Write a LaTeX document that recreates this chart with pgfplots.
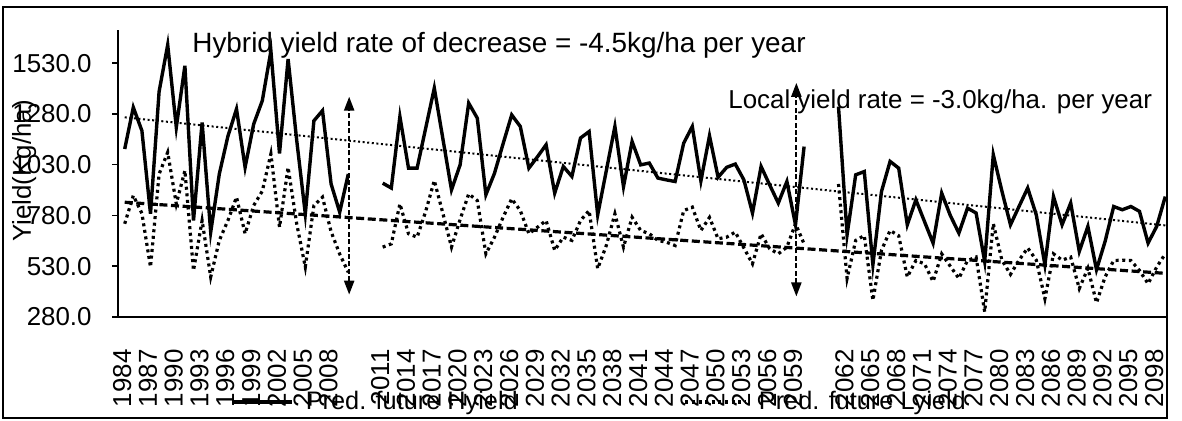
\documentclass[border=0pt]{standalone}
\usepackage{fontspec}
\setmainfont{Liberation Sans}
\usepackage{pgfplots}
\pgfplotsset{compat=1.18}
\usetikzlibrary{arrows.meta}

\begin{document}
\begin{tikzpicture}
\useasboundingbox (-59bp,-52bp) rectangle (532bp,158.5bp);
\begin{axis}[
  scale only axis, width=524.5bp, height=143.5bp,
  xmin=-0.78, xmax=121.2, ymin=280, ymax=1693,
  axis x line*=bottom, axis y line*=left,
  axis line style={line width=1bp},
  unbounded coords=jump,
  ytick={280,530,780,1030,1280,1530},
  tick align=outside, major tick length=3bp,
  tick style={line width=0.8bp, black},
  xtick style={draw=none},
  xtick={-0.3,2.7,5.7,8.7,11.7,14.7,17.7,20.7,23.7,29.7,32.7,35.7,38.7,41.7,44.7,47.7,50.7,53.7,56.7,59.7,62.7,65.7,68.7,71.7,74.7,77.7,83.7,86.7,89.7,92.7,95.7,98.7,101.7,104.7,107.7,110.7,113.7,116.7,119.7},
  xticklabels={1984,1987,1990,1993,1996,1999,2002,2005,2008,2011,2014,2017,2020,2023,2026,2029,2032,2035,2038,2041,2044,2047,2050,2053,2056,2059,2062,2065,2068,2071,2074,2077,2080,2083,2086,2089,2092,2095,2098},
  xticklabel style={rotate=90, anchor=east, inner sep=0pt, font=\fontsize{13}{14}\selectfont},
  xticklabel shift=13bp,
  yticklabel style={anchor=east, inner sep=0pt, font=\fontsize{13}{14}\selectfont,
    /pgf/number format/fixed, /pgf/number format/fixed zerofill,
    /pgf/number format/precision=1, /pgf/number format/1000 sep={},
    /pgf/number format/assume math mode=true},
  yticklabel shift=10bp,
  scaled y ticks=false,
  legend columns=2,
  legend image code/.code={\draw[#1] (0bp,0bp) -- (30bp,0bp);},
  legend style={draw=none, fill=none, inner sep=0pt, at={(0.1068,-0.296)}, anchor=west,
    font=\fontsize{12.7}{14}\selectfont, nodes={inner sep=0pt},
    /tikz/every odd column/.append style={column sep=6bp},
    /tikz/every even column/.append style={column sep=83bp}},
]
% hybrid yield
\addplot[black, line width=1.7bp, line join=miter] coordinates {
(0,1107)(1,1312)(2,1197)(3,788)(4,1390)(5,1620)(6,1214)(7,1517)(8,755)(9,1238)
(10,698)(11,984)(12,1170)(13,1304)(14,1017)(15,1230)(16,1345)(17,1590)(18,1085)(19,1550)
(20,1150)(21,788)(22,1246)(23,1296)(24,935)(25,796)(26,984)
(28,nan)
(30,939)(31,915)(32,1267)(33,1013)(34,1013)(35,1210)(36,1407)(37,1157)(38,906)(39,1029)
(40,1333)(41,1259)(42,882)(43,988)(44,1133)(45,1275)(46,1218)(47,1013)(48,1069)(49,1128)
(50,890)(51,1021)(52,972)(53,1161)(54,1193)(55,783)(56,1000)(57,1218)(58,922)(59,1144)
(60,1029)(61,1038)(62,964)(63,955)(64,947)(65,1136)(66,1218)(67,950)(68,1172)(69,968)
(70,1017)(71,1033)(72,955)(73,792)(74,1021)(75,930)(76,841)(77,947)(78,734)(79,1119)
(81,nan)
(83,1316)(84,685)(85,980)(86,996)(87,537)(88,898)(89,1046)(90,1013)(91,734)(92,857)
(93,750)(94,644)(95,890)(96,780)(97,693)(98,816)(99,792)(100,553)(101,1079)(102,900)
(103,734)(104,825)(105,915)(106,783)(107,537)(108,873)(109,734)(110,841)(111,603)(112,726)
(113,513)(114,652)(115,824)(116,808)(117,824)(118,800)(119,644)(120,726)(121,873)
};
\addlegendentry{Pred. future Hyield}
% local yield
\addplot[black, line width=1.6bp, dash pattern=on 1.5bp off 1.8bp] coordinates {
(0,739)(1,878)(2,790)(3,526)(4,984)(5,1091)(6,837)(7,1001)(8,509)(9,755)
(10,477)(11,657)(12,755)(13,870)(14,690)(15,829)(16,900)(17,1083)(18,722)(19,1017)
(20,739)(21,526)(22,829)(23,870)(24,700)(25,590)(26,500)
(28,nan)
(30,624)(31,640)(32,837)(33,690)(34,673)(35,800)(36,952)(37,790)(38,624)(39,760)
(40,886)(41,853)(42,591)(43,673)(44,771)(45,862)(46,804)(47,690)(48,722)(49,755)
(50,608)(51,673)(52,657)(53,755)(54,804)(55,518)(56,632)(57,788)(58,624)(59,771)
(60,706)(61,690)(62,657)(63,648)(64,632)(65,804)(66,821)(67,706)(68,770)(69,665)
(70,673)(71,698)(72,620)(73,542)(74,690)(75,616)(76,591)(77,624)(78,739)(79,640)
(81,nan)
(83,935)(84,470)(85,657)(86,681)(87,362)(88,608)(89,706)(90,680)(91,477)(92,558)
(93,542)(94,455)(95,591)(96,530)(97,470)(98,558)(99,575)(100,305)(101,740)(102,560)
(103,490)(104,560)(105,620)(106,560)(107,370)(108,591)(109,560)(110,575)(111,420)(112,520)
(113,350)(114,477)(115,558)(116,560)(117,558)(118,509)(119,444)(120,526)(121,591)
};
\addlegendentry{Pred. future Lyield}
% trend lines
\addplot[forget plot, black, line width=1bp, dash pattern=on 1bp off 1.3bp] coordinates {(0,1263)(121,731)};
\addplot[forget plot, black, line width=1.6bp, dash pattern=on 4bp off 1.8bp] coordinates {(0,845)(121,495)};
% arrows
\draw[line width=1.1bp, dash pattern=on 2.5bp off 1.2bp, {Triangle[width=5bp,length=7bp]}-{Triangle[width=5bp,length=7bp]}] (axis cs:26.1,390) -- (axis cs:26.1,1365);
\draw[line width=1.1bp, dash pattern=on 2.5bp off 1.2bp, {Triangle[width=5bp,length=7bp]}-{Triangle[width=5bp,length=7bp]}] (axis cs:78.1,381) -- (axis cs:78.1,1433);
\end{axis}
\node[anchor=base west, inner sep=0pt, font=\fontsize{14}{16}\selectfont] at (37bp,132bp) {Hybrid yield rate of decrease = -4.5kg/ha per year};
\node[anchor=base west, inner sep=0pt, font=\fontsize{13}{15}\selectfont] at (305bp,104bp) {Local yield rate = -3.0kg/ha. per year};
\node[rotate=90, anchor=base, inner sep=0pt, font=\fontsize{13}{15}\selectfont] at (-43.5bp,73bp) {Yield(Kg/ha)};
\draw[line width=1bp] (-57.5bp,-50.5bp) rectangle (524.5bp,155bp);
\end{tikzpicture}
\end{document}
